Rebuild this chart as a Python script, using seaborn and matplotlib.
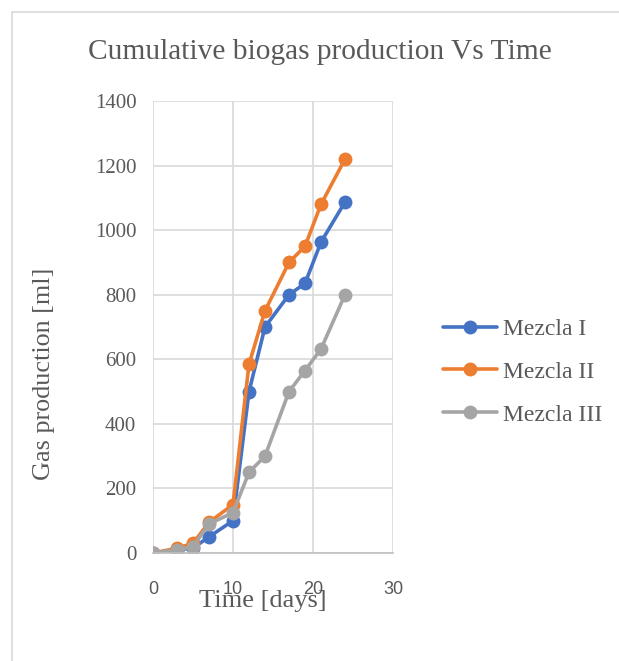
import matplotlib
matplotlib.use("Agg")
import matplotlib.pyplot as plt
import seaborn as sns
import pandas as pd
from matplotlib.patches import Rectangle

days = [0, 3, 5, 7, 10, 12, 14, 17, 19, 21, 24]
mezcla_1 = [0, 10, 15, 50, 100, 500, 700, 800, 835, 963, 1087]
mezcla_2 = [0, 15, 30, 95, 150, 585, 750, 900, 950, 1080, 1220]
mezcla_3 = [0, 10, 20, 90, 125, 250, 300, 500, 565, 632, 800]
series_names = ["Mezcla I", "Mezcla II", "Mezcla III"]
x_ticks = [0, 10, 20, 30]
y_ticks = [0, 200, 400, 600, 800, 1000, 1200, 1400]

df = pd.DataFrame({
    "day": days * 3,
    "gas": mezcla_1 + mezcla_2 + mezcla_3,
    "serie": [series_names[0]] * len(days) + [series_names[1]] * len(days) + [series_names[2]] * len(days),
})

sns.set_theme(style="white")
serif = "Liberation Serif"
text_color = "#595959"

fig = plt.figure(figsize=(6.19, 6.61), dpi=100)
W, H = 619, 661
ax = fig.add_axes([153 / W, 1 - 553 / H, (393 - 153) / W, (553 - 101) / H])

palette = {"Mezcla I": "#4472C4", "Mezcla II": "#ED7D31", "Mezcla III": "#A5A5A5"}
sns.lineplot(data=df, x="day", y="gas", hue="serie", palette=palette, marker="o",
             markersize=10, markeredgewidth=0, linewidth=2.6, ax=ax, legend=True)

ax.set_xlim(0, 30)
ax.set_ylim(0, 1400)
ax.set_xticks(x_ticks)
ax.set_yticks(y_ticks)
ax.grid(True, color="#D9D9D9", linewidth=1.2)
ax.set_axisbelow(True)
for s in ["top", "right", "left"]:
    ax.spines[s].set_visible(False)
ax.spines["bottom"].set_color("#BFBFBF")
ax.spines["bottom"].set_linewidth(1.2)
ax.tick_params(axis="both", length=0)
ax.tick_params(axis="x", pad=20, labelcolor=text_color, labelsize=13)
ax.tick_params(axis="y", pad=12, labelcolor=text_color, labelsize=15)
for lab in ax.get_xticklabels():
    lab.set_fontfamily("Liberation Sans")
for lab in ax.get_yticklabels():
    lab.set_fontfamily(serif)

ax.set_xlabel("Time [days]", fontsize=19, color=text_color, family=serif)
ax.xaxis.set_label_coords((263 - 153) / 240, -(590 - 553) / 452, transform=ax.transAxes)
ax.set_ylabel("Gas production [ml]", fontsize=18.8, color=text_color, family=serif)
ax.yaxis.set_label_coords(-(153 - 55) / 240, (553 - 374) / 452, transform=ax.transAxes)

fig.text(320 / W, 1 - 52 / H, "Cumulative biogas production Vs Time", ha="center", va="center",
         fontsize=21.2, color=text_color, family=serif)

leg = ax.legend(loc="center left", bbox_to_anchor=(443 / W, 1 - 372 / H), bbox_transform=fig.transFigure,
                frameon=False, prop={"family": serif, "size": 17}, handlelength=2.3,
                labelspacing=0.9, handletextpad=0.25, borderaxespad=0, borderpad=0)
for t in leg.get_texts():
    t.set_color(text_color)
for h in leg.legend_handles:
    h.set_linewidth(2.6)
    h.set_markersize(10)

fig.patches.append(Rectangle((12 / W, -0.01), (W - 10) / W, 1 - 12 / H + 0.01, transform=fig.transFigure,
                             fill=False, edgecolor="#D9D9D9", linewidth=1.2))

fig.savefig("out.png", dpi=100)
